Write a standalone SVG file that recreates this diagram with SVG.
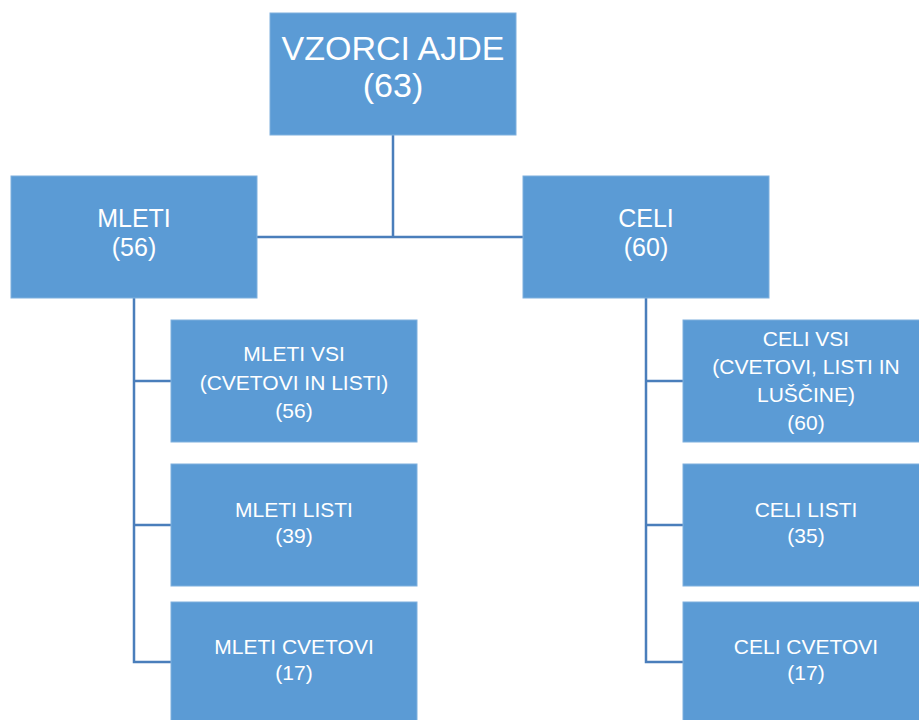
<svg xmlns="http://www.w3.org/2000/svg" width="919" height="720" viewBox="0 0 919 720">
<style>
.box{fill:#5b9bd5;stroke:#7fb0de;stroke-width:1}
.t{font-family:"Liberation Sans",Arial,sans-serif;fill:#ffffff;text-anchor:middle}
.t1{font-size:34px}
.t2{font-size:25px}
.t3{font-size:21px}
.c{fill:none;stroke:#4a7ebb;stroke-width:2.5}
</style>
<rect width="919" height="720" fill="#ffffff"/>
<g id="connectors">
<path class="c" d="M393,135 V237 M257,237 H523"/>
<path class="c" d="M134,298 V662 H171 M134,381 H171 M134,525 H171"/>
<path class="c" d="M646,298 V662 H683 M646,381 H683 M646,525 H683"/>
</g>
<g id="root">
<rect class="box" x="270" y="13" width="246" height="122"/>
<text class="t t1" x="393" y="60">VZORCI AJDE</text>
<text class="t t1" x="393" y="97">(63)</text>
</g>
<g id="mleti">
<rect class="box" x="11" y="176" width="246" height="122"/>
<text class="t t2" x="134" y="227">MLETI</text>
<text class="t t2" x="134" y="256">(56)</text>
</g>
<g id="celi">
<rect class="box" x="523" y="176" width="246" height="122"/>
<text class="t t2" x="646" y="227">CELI</text>
<text class="t t2" x="646" y="256">(60)</text>
</g>
<g id="mleti-vsi">
<rect class="box" x="171" y="320" width="246" height="122"/>
<text class="t t3" x="294" y="361">MLETI VSI</text>
<text class="t t3" x="294" y="390">(CVETOVI IN LISTI)</text>
<text class="t t3" x="294" y="418">(56)</text>
</g>
<g id="mleti-listi">
<rect class="box" x="171" y="464" width="246" height="122"/>
<text class="t t3" x="294" y="517">MLETI LISTI</text>
<text class="t t3" x="294" y="543">(39)</text>
</g>
<g id="mleti-cvetovi">
<rect class="box" x="171" y="602" width="246" height="122"/>
<text class="t t3" x="294" y="654">MLETI CVETOVI</text>
<text class="t t3" x="294" y="680">(17)</text>
</g>
<g id="celi-vsi">
<rect class="box" x="683" y="320" width="246" height="122"/>
<text class="t t3" x="806" y="346">CELI VSI</text>
<text class="t t3" x="806" y="374">(CVETOVI, LISTI IN</text>
<text class="t t3" x="806" y="402">LUŠČINE)</text>
<text class="t t3" x="806" y="430">(60)</text>
</g>
<g id="celi-listi">
<rect class="box" x="683" y="464" width="246" height="122"/>
<text class="t t3" x="806" y="517">CELI LISTI</text>
<text class="t t3" x="806" y="543">(35)</text>
</g>
<g id="celi-cvetovi">
<rect class="box" x="683" y="602" width="246" height="122"/>
<text class="t t3" x="806" y="654">CELI CVETOVI</text>
<text class="t t3" x="806" y="680">(17)</text>
</g>
</svg>
